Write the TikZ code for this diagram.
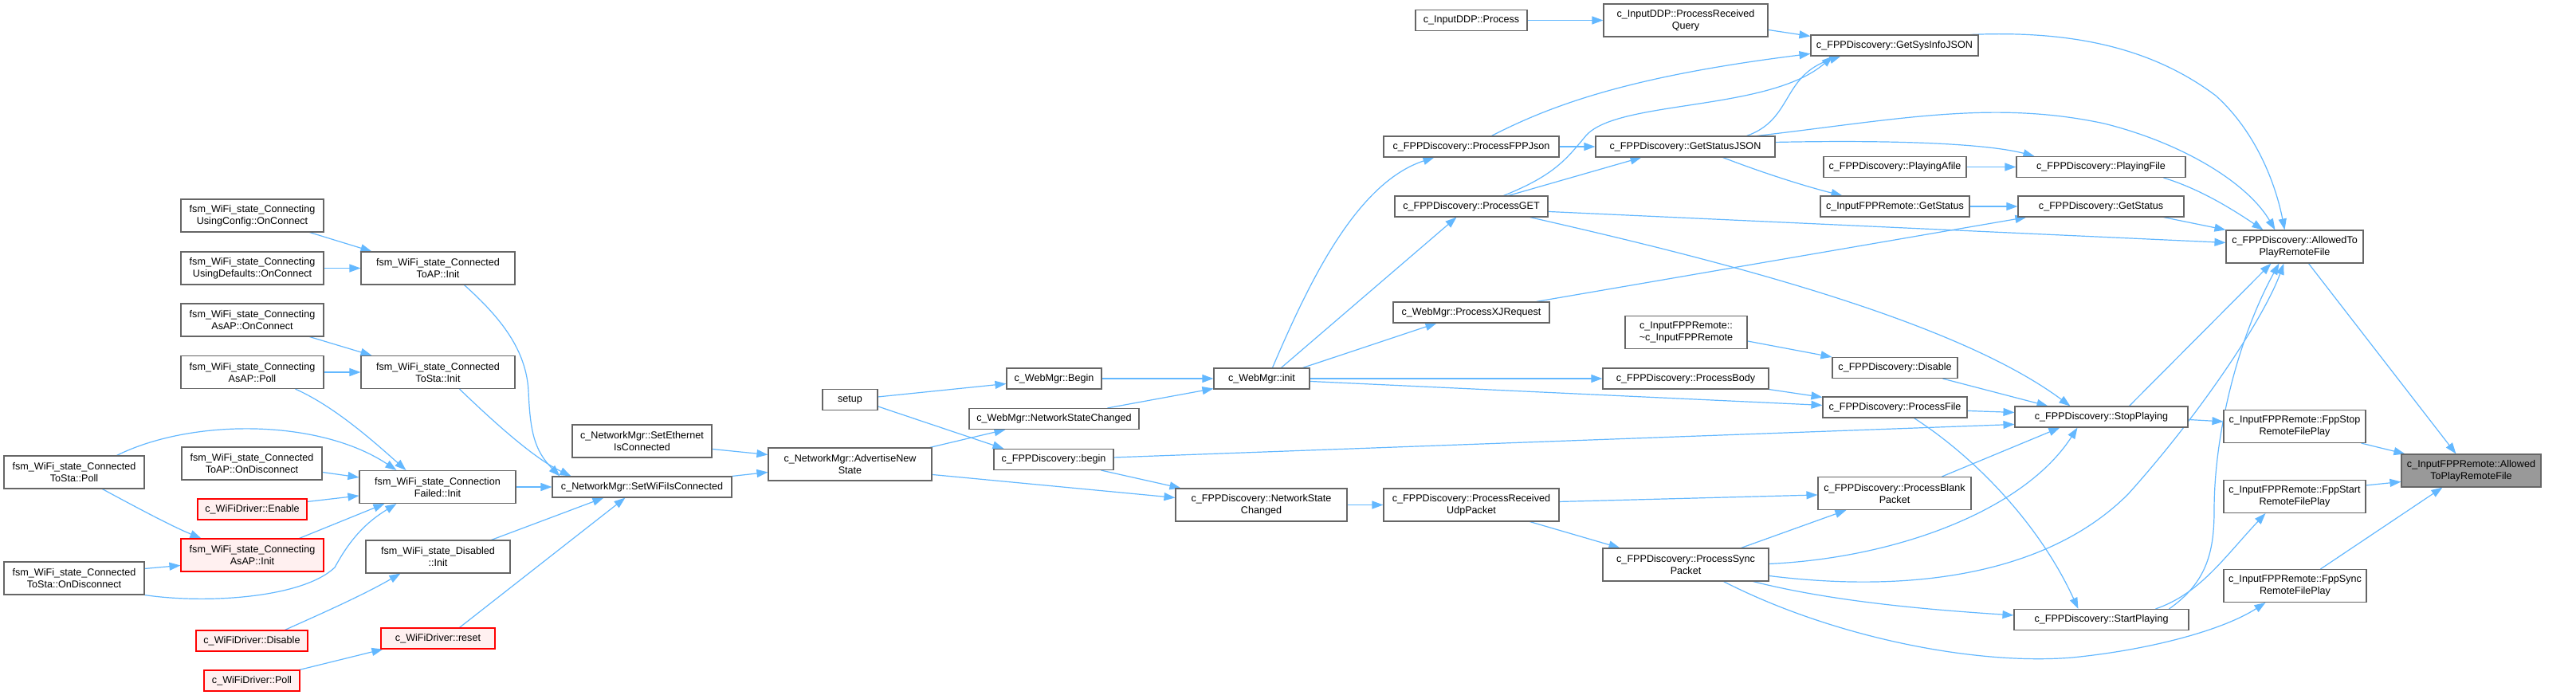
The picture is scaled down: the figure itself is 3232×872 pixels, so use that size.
\documentclass[tikz,border=0pt]{standalone}
\usepackage{fontspec}
\setmainfont{Liberation Sans}
\usetikzlibrary{arrows.meta,calc}
\definecolor{edgeblue}{HTML}{63B8FF}
\definecolor{gborder}{HTML}{666666}
\definecolor{redfill}{HTML}{FFF0F0}
\definecolor{tgfill}{HTML}{999999}
\pgfdeclarelayer{bg}
\pgfsetlayers{bg,main}
\tikzset{
  nd/.style={draw=gborder, fill=white, line width=1.1pt, inner sep=0pt, align=center,
    font=\fontsize{12.6pt}{15pt}\selectfont, text=black},
  rd/.style={nd, draw=red, fill=redfill},
  tg/.style={nd, fill=tgfill},
  e/.style={draw=edgeblue, line width=1.2pt, -{Triangle[length=14pt,width=10pt]}},
}
\begin{document}
\begin{tikzpicture}[x=1pt,y=-1pt]
\useasboundingbox (0,0) rectangle (3232,872);
% column 2
\node[nd,minimum width=179pt,minimum height=41pt] (ucfg) at (316.5,270.5) {fsm\_WiFi\_state\_Connecting\\UsingConfig::OnConnect};
\node[nd,minimum width=179pt,minimum height=41pt] (udef) at (316.5,336.5) {fsm\_WiFi\_state\_Connecting\\UsingDefaults::OnConnect};
\node[nd,minimum width=179pt,minimum height=41pt] (aapConn) at (316.5,401.5) {fsm\_WiFi\_state\_Connecting\\AsAP::OnConnect};
\node[nd,minimum width=179pt,minimum height=41pt] (aapPoll) at (316.5,467) {fsm\_WiFi\_state\_Connecting\\AsAP::Poll};
\node[nd,minimum width=176pt,minimum height=41pt] (capDisc) at (316,581.5) {fsm\_WiFi\_state\_Connected\\ToAP::OnDisconnect};
\node[rd,minimum width=137pt,minimum height=26pt] (wEnable) at (316.5,639) {c\_WiFiDriver::Enable};
\node[rd,minimum width=179pt,minimum height=41pt] (aapInit) at (316.5,696.5) {fsm\_WiFi\_state\_Connecting\\AsAP::Init};
\node[rd,minimum width=140pt,minimum height=26pt] (wDisable) at (316,804) {c\_WiFiDriver::Disable};
\node[rd,minimum width=120pt,minimum height=26pt] (wPoll) at (316,854) {c\_WiFiDriver::Poll};
% column 1
\node[nd,minimum width=176pt,minimum height=41pt] (ctaPoll) at (93,592.5) {fsm\_WiFi\_state\_Connected\\ToSta::Poll};
\node[nd,minimum width=176pt,minimum height=41pt] (ctaDisc) at (93,725.5) {fsm\_WiFi\_state\_Connected\\ToSta::OnDisconnect};
% column 3
\node[nd,minimum width=193pt,minimum height=41pt] (toapInit) at (549.5,336.5) {fsm\_WiFi\_state\_Connected\\ToAP::Init};
\node[nd,minimum width=193pt,minimum height=41pt] (tostaInit) at (549.5,467) {fsm\_WiFi\_state\_Connected\\ToSta::Init};
\node[nd,minimum width=196pt,minimum height=41pt] (cfInit) at (549,611) {fsm\_WiFi\_state\_Connection\\Failed::Init};
\node[nd,minimum width=181pt,minimum height=41pt] (disInit) at (549.5,698.5) {fsm\_WiFi\_state\_Disabled\\::Init};
\node[rd,minimum width=143pt,minimum height=26pt] (wReset) at (549.5,801) {c\_WiFiDriver::reset};
% column 4-5
\node[nd,minimum width=175pt,minimum height=41pt] (setEth) at (805.5,553.5) {c\_NetworkMgr::SetEthernet\\IsConnected};
\node[nd,minimum width=225pt,minimum height=26pt] (setWifi) at (805.5,611) {c\_NetworkMgr::SetWiFiIsConnected};
\node[nd,minimum width=205pt,minimum height=41pt] (adv) at (1066.5,582.5) {c\_NetworkMgr::AdvertiseNew\\State};
\node[nd,minimum width=69pt,minimum height=26pt] (setup) at (1066.5,501.5) {setup};
% column 6-7
\node[nd,minimum width=119pt,minimum height=26pt] (webBegin) at (1322.5,475) {c\_WebMgr::Begin};
\node[nd,minimum width=213pt,minimum height=26pt] (webNSC) at (1322.5,525.5) {c\_WebMgr::NetworkStateChanged};
\node[nd,minimum width=150pt,minimum height=26pt] (fbegin) at (1322,576.5) {c\_FPPDiscovery::begin};
\node[nd,minimum width=120pt,minimum height=26pt] (webInit) at (1583,475) {c\_WebMgr::init};
\node[nd,minimum width=215pt,minimum height=41pt] (fNSC) at (1582.5,633.5) {c\_FPPDiscovery::NetworkState\\Changed};
% column 8
\node[nd,minimum width=140pt,minimum height=26pt] (ddpProc) at (1846,25.5) {c\_InputDDP::Process};
\node[nd,minimum width=220pt,minimum height=26pt] (fjson) at (1846,184) {c\_FPPDiscovery::ProcessFPPJson};
\node[nd,minimum width=192pt,minimum height=26pt] (fget) at (1846,259) {c\_FPPDiscovery::ProcessGET};
\node[nd,minimum width=196pt,minimum height=26pt] (xj) at (1846,392) {c\_WebMgr::ProcessXJRequest};
\node[nd,minimum width=220pt,minimum height=41pt] (udp) at (1846,633.5) {c\_FPPDiscovery::ProcessReceived\\UdpPacket};
% column 9
\node[nd,minimum width=206pt,minimum height=41pt] (ddpQuery) at (2115,25.5) {c\_InputDDP::ProcessReceived\\Query};
\node[nd,minimum width=225pt,minimum height=26pt] (statusJSON) at (2114.5,184) {c\_FPPDiscovery::GetStatusJSON};
\node[nd,minimum width=153pt,minimum height=41pt] (ifrDtor) at (2115.5,417) {c\_InputFPPRemote::\\\textasciitilde c\_InputFPPRemote};
\node[nd,minimum width=208pt,minimum height=26pt] (body) at (2115,475) {c\_FPPDiscovery::ProcessBody};
\node[nd,minimum width=208pt,minimum height=41pt] (sync) at (2115,708.5) {c\_FPPDiscovery::ProcessSync\\Packet};
% column 10
\node[nd,minimum width=210pt,minimum height=26pt] (sysinfo) at (2377,57) {c\_FPPDiscovery::GetSysInfoJSON};
\node[nd,minimum width=179pt,minimum height=26pt] (playAfile) at (2377.5,209.5) {c\_FPPDiscovery::PlayingAfile};
\node[nd,minimum width=187pt,minimum height=26pt] (ifrGetStatus) at (2377.5,259) {c\_InputFPPRemote::GetStatus};
\node[nd,minimum width=157pt,minimum height=26pt] (disable) at (2377.5,461.5) {c\_FPPDiscovery::Disable};
\node[nd,minimum width=181pt,minimum height=26pt] (pfile) at (2377.5,511) {c\_FPPDiscovery::ProcessFile};
\node[nd,minimum width=192pt,minimum height=41pt] (blank) at (2377,619) {c\_FPPDiscovery::ProcessBlank\\Packet};
% column 11
\node[nd,minimum width=212pt,minimum height=26pt] (playingFile) at (2636,209.5) {c\_FPPDiscovery::PlayingFile};
\node[nd,minimum width=208pt,minimum height=26pt] (getStatus) at (2636,259) {c\_FPPDiscovery::GetStatus};
\node[nd,minimum width=217pt,minimum height=26pt] (stop) at (2636.5,523) {c\_FPPDiscovery::StopPlaying};
\node[nd,minimum width=219pt,minimum height=26pt] (start) at (2636.5,777.5) {c\_FPPDiscovery::StartPlaying};
% column 12-13
\node[nd,minimum width=172pt,minimum height=41pt] (allowed) at (2879,309.5) {c\_FPPDiscovery::AllowedTo\\PlayRemoteFile};
\node[nd,minimum width=178pt,minimum height=41pt] (fppStop) at (2879,535) {c\_InputFPPRemote::FppStop\\RemoteFilePlay};
\node[nd,minimum width=178pt,minimum height=41pt] (fppStart) at (2879,623) {c\_InputFPPRemote::FppStart\\RemoteFilePlay};
\node[nd,minimum width=179pt,minimum height=41pt] (fppSync) at (2879.5,735) {c\_InputFPPRemote::FppSync\\RemoteFilePlay};
\node[tg,minimum width=175pt,minimum height=41pt] (target) at (3100.5,590.5) {c\_InputFPPRemote::Allowed\\ToPlayRemoteFile};

\begin{pgfonlayer}{bg}
\fill[white] (0,0) rectangle (3232,872);
\draw[e] ($(ucfg.south west)+(162,0)$) -- ($(toapInit.north west)+(14,0)$);
\draw[e] (udef.east) -- (toapInit.west);
\draw[e] ($(aapConn.south west)+(162,0)$) -- ($(tostaInit.north west)+(14,0)$);
\draw[e] (aapPoll.east) -- (tostaInit.west);
\draw[e] ($(aapPoll.south west)+(144,0)$) .. controls (420,510) and (470,555) .. ($(cfInit.north west)+(59,0)$);
\draw[e] ($(ctaPoll.north west)+(142,0)$) .. controls (240,525) and (400,525) .. ($(cfInit.north west)+(47,0)$);
\draw[e] ($(ctaPoll.south west)+(124,0)$) .. controls (170,636) and (215,660) .. ($(aapInit.north west)+(26,0)$);
\draw[e] ($(capDisc.north east)+(0,32)$) -- ($(cfInit.north west)+(0,9)$);
\draw[e] ($(wEnable.north east)+(0,4)$) -- ($(cfInit.north west)+(0,32)$);
\draw[e] ($(aapInit.north west)+(149,0)$) -- ($(cfInit.south west)+(32,0)$);
\draw[e] (ctaDisc.south east) .. controls (260,758) and (380,750) .. (420,712) .. controls (440,675) and (460,655) .. ($(cfInit.south west)+(47,0)$);
\draw[e] ($(ctaDisc.north east)+(0,9)$) -- ($(aapInit.north west)+(0,34)$);
\draw[e] ($(wDisable.north west)+(112,0)$) .. controls (380,780) and (450,750) .. ($(disInit.south west)+(44,0)$);
\draw[e] ($(wPoll.north east)+(-1,0)$) -- ($(wReset.south west)+(3,0)$);
\draw[e] ($(toapInit.south west)+(130,0)$) .. controls (630,400) and (660,440) .. (663,490) .. controls (665,540) and (670,565) .. ($(setWifi.north west)+(10,0)$);
\draw[e] ($(tostaInit.south west)+(124,0)$) .. controls (620,530) and (670,575) .. ($(setWifi.north west)+(24,0)$);
\draw[e] (cfInit.east) -- (setWifi.west);
\draw[e] ($(disInit.north west)+(158,0)$) -- ($(setWifi.south west)+(65,0)$);
\draw[e] ($(wReset.north west)+(99,0)$) -- ($(setWifi.south west)+(92,0)$);
\draw[e] ($(setEth.north east)+(0,31)$) -- ($(adv.north west)+(0,9)$);
\draw[e] (setWifi.north east) -- ($(adv.north west)+(0,31)$);
\draw[e] ($(setup.north east)+(0,10)$) -- ($(webBegin.north west)+(0,20)$);
\draw[e] ($(setup.north east)+(0,22)$) -- ($(fbegin.north west)+(13,0)$);
\draw[e] ($(adv.north east)+(-3,0)$) -- ($(webNSC.south west)+(46,0)$);
\draw[e] ($(adv.north east)+(0,34)$) -- ($(fNSC.north west)+(0,12)$);
\draw[e] (webBegin.east) -- (webInit.west);
\draw[e] ($(webNSC.north west)+(174,0)$) -- ($(webInit.south west)+(0,-1)$);
\draw[e] ($(fbegin.south west)+(135,0)$) -- ($(fNSC.north west)+(7,0)$);
\draw[e] ($(fbegin.north east)+(0,11)$) -- ($(stop.north west)+(0,23)$);
\draw[e] ($(webInit.north west)+(74,0)$) .. controls (1640,360) and (1700,230) .. ($(fjson.south west)+(64,0)$);
\draw[e] ($(webInit.north west)+(85,0)$) -- ($(fget.south west)+(78,0)$);
\draw[e] ($(webInit.north west)+(112,0)$) -- ($(xj.south west)+(55,0)$);
\draw[e] (webInit.east) -- (body.west);
\draw[e] ($(webInit.north east)+(0,17)$) -- ($(pfile.north west)+(0,11)$);
\draw[e] (body.south east) -- ($(pfile.north west)+(0,1)$);
\draw[e] ($(ifrDtor.north east)+(0,32)$) -- (disable.north west);
\draw[e] (fNSC.east) -- (udp.west);
\draw[e] ($(udp.north east)+(0,17)$) -- ($(blank.north west)+(0,23)$);
\draw[e] ($(udp.south west)+(184,0)$) -- ($(sync.north west)+(22,0)$);
\draw[e] ($(sync.north west)+(174,0)$) -- ($(blank.south west)+(36,0)$);
\draw[e] ($(sync.north east)+(0,20)$) .. controls (2380,700) and (2540,640) .. ($(stop.south west)+(79,0)$);
\draw[e] ($(sync.north east)+(0,35)$) .. controls (2400,745) and (2570,720) .. (2670,620) .. controls (2760,520) and (2840,400) .. ($(allowed.south west)+(73,0)$);
\draw[e] ($(start.north west)+(195,0)$) .. controls (2770,730) and (2778,690) .. (2778,640) .. controls (2778,540) and (2810,420) .. ($(allowed.south west)+(67,0)$);
\draw[e] ($(stop.north west)+(144,0)$) -- ($(allowed.south west)+(57,0)$);
\draw[e] ($(stop.north east)+(0,17)$) -- ($(fppStop.north west)+(0,15)$);
\draw[e] ($(start.north west)+(178,0)$) .. controls (2760,745) and (2790,700) .. ($(fppStart.south west)+(53,0)$);
\draw[e] ($(sync.south west)+(152,0)$) .. controls (2300,800) and (2480,835) .. (2600,825) .. controls (2700,815) and (2790,790) .. ($(fppSync.south west)+(53,0)$);
\draw[e] ($(fppStop.south east)+(-6,0)$) -- ($(target.north west)+(5,0)$);
\draw[e] ($(fppStart.north east)+(0,7)$) -- ($(target.north west)+(0,35)$);
\draw[e] ($(fppSync.north west)+(122,0)$) -- ($(target.south west)+(52,0)$);
\draw[e] ($(allowed.south west)+(104,0)$) -- ($(target.north west)+(69,0)$);
\draw[e] ($(pfile.north east)+(0,18)$) -- ($(stop.north west)+(0,8)$);
\draw[e] ($(pfile.south west)+(115,0)$) .. controls (2480,575) and (2560,660) .. ($(start.north west)+(81,0)$);
\draw[e] ($(sync.south west)+(189,0)$) .. controls (2300,755) and (2420,765) .. ($(start.north west)+(0,8)$);
\draw[e] ($(disable.south west)+(139,0)$) -- ($(stop.north west)+(42,0)$);
\draw[e] ($(blank.north west)+(156,0)$) -- ($(stop.south west)+(57,0)$);
\draw[e] ($(fget.south west)+(170,0)$) .. controls (2150,325) and (2450,400) .. ($(stop.north west)+(70,0)$);
\draw[e] ($(fget.north east)+(0,20)$) -- ($(allowed.north west)+(0,16)$);
\draw[e] ($(xj.north west)+(180,0)$) -- ($(getStatus.south west)+(11,0)$);
\draw[e] ($(fget.north west)+(143,0)$) -- ($(statusJSON.south west)+(58,0)$);
\draw[e] ($(fget.north west)+(137,0)$) .. controls (1950,220) and (1965,200) .. (1990,170) .. controls (2030,125) and (2220,140) .. ($(sysinfo.south west)+(28,0)$);
\draw[e] ($(fjson.north west)+(136,0)$) .. controls (1950,130) and (2050,95) .. ($(sysinfo.north west)+(0,24)$);
\draw[e] ($(statusJSON.north west)+(190,0)$) .. controls (2250,150) and (2235,95) .. ($(sysinfo.south west)+(38,0)$);
\draw[e] ($(ddpQuery.north east)+(0,33)$) -- ($(sysinfo.north west)+(0,2)$);
\draw[e] (ddpProc.east) -- (ddpQuery.west);
\draw[e] (fjson.east) -- (statusJSON.west);
\draw[e] ($(statusJSON.north west)+(203,0)$) .. controls (2380,150) and (2500,125) .. (2640,155) .. controls (2740,180) and (2820,230) .. ($(allowed.north west)+(62,0)$);
\draw[e] ($(sysinfo.north west)+(201,0)$) .. controls (2600,38) and (2700,60) .. (2780,120) .. controls (2830,165) and (2855,230) .. ($(allowed.north west)+(74,0)$);
\draw[e] (playAfile.east) -- (playingFile.west);
\draw[e] (ifrGetStatus.east) -- (getStatus.west);
\draw[e] ($(statusJSON.north east)+(0,8)$) .. controls (2400,175) and (2500,182) .. ($(playingFile.north west)+(23,0)$);
\draw[e] ($(statusJSON.south west)+(160,0)$) .. controls (2220,220) and (2270,235) .. ($(ifrGetStatus.north west)+(28,0)$);
\draw[e] ($(playingFile.south west)+(185,0)$) .. controls (2760,237) and (2800,262) .. ($(allowed.north west)+(47,0)$);
\draw[e] ($(getStatus.south west)+(183,0)$) -- (allowed.north west);
\end{pgfonlayer}
\end{tikzpicture}
\end{document}
